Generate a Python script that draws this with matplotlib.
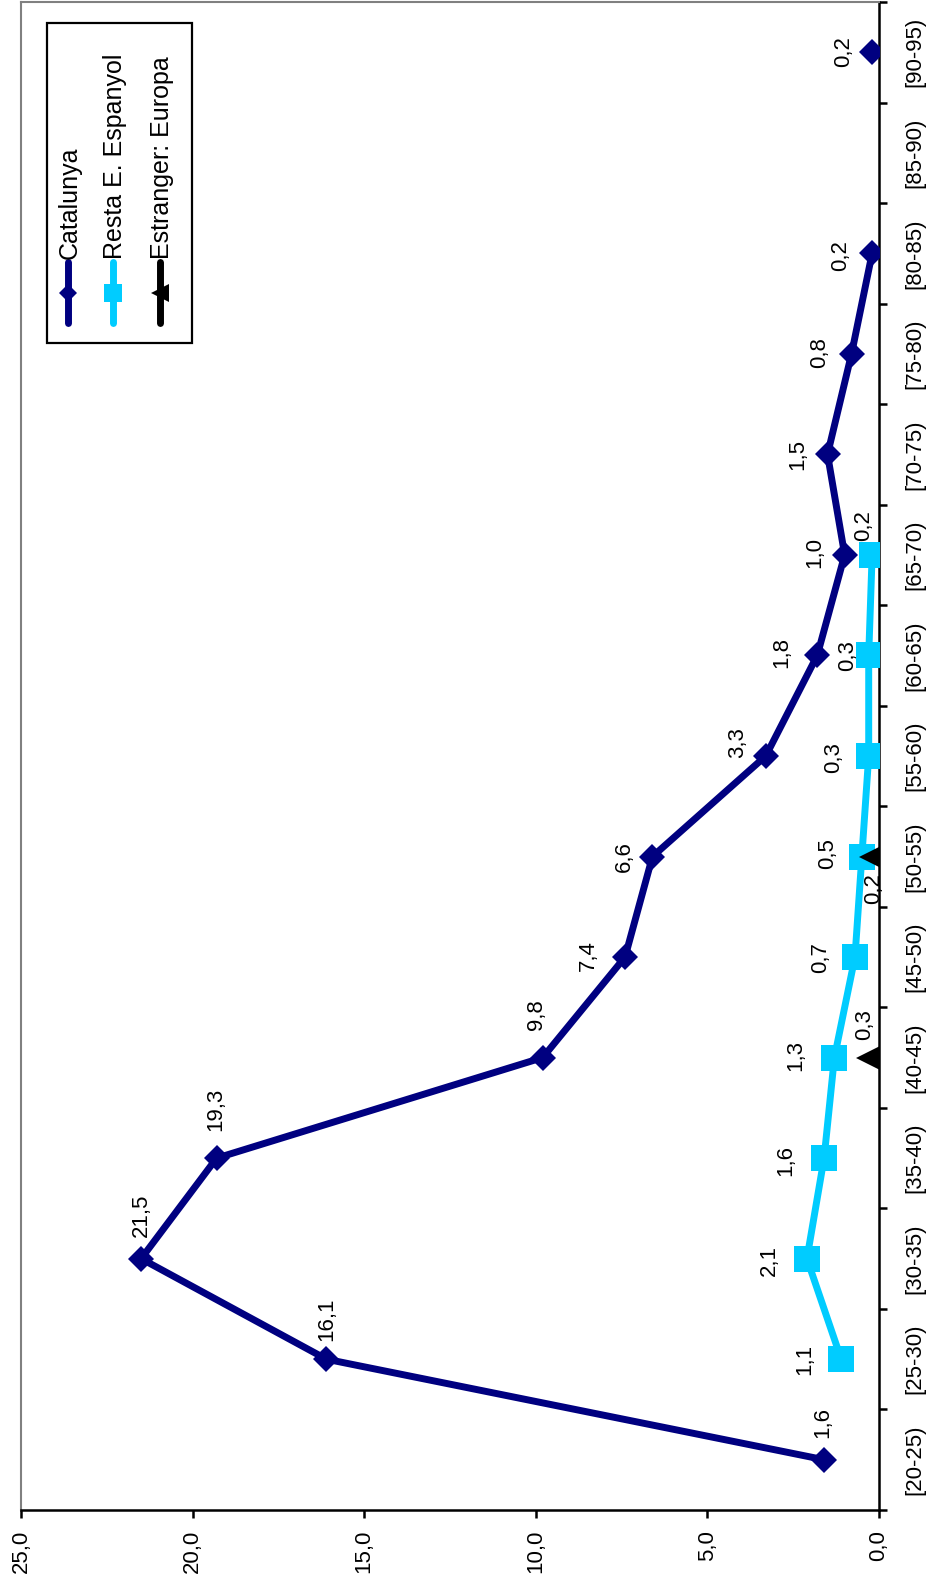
import numpy as np
import matplotlib
matplotlib.use("Agg")
import matplotlib.pyplot as plt
from matplotlib.patches import Rectangle

plt.rcParams['font.family'] = ['Liberation Sans', 'DejaVu Sans']

# ---- data ----
categories = ["[20-25)", "[25-30)", "[30-35)", "[35-40)", "[40-45)", "[45-50)",
              "[50-55)", "[55-60)", "[60-65)", "[65-70)", "[70-75)", "[75-80)",
              "[80-85)", "[85-90)", "[90-95)"]
nan = np.nan
catalunya = [1.6, 16.1, 21.5, 19.3, 9.8, 7.4, 6.6, 3.3, 1.8, 1.0, 1.5, 0.8, 0.2, nan, 0.2]
resta = [nan, 1.1, 2.1, 1.6, 1.3, 0.7, 0.5, 0.3, 0.3, 0.2, nan, nan, nan, nan, nan]
europa = [nan, nan, nan, nan, 0.3, nan, 0.2, nan, nan, nan, nan, nan, nan, nan, nan]
series_names = ["Catalunya", "Resta E. Espanyol", "Estranger: Europa"]
value_ticks = [0, 5, 10, 15, 20, 25]

# label offsets in pixels (dx right, dy down) in the image
cat_off = [(-1, -37), (0, -40), (0, -43), (-1, -49), (-6, -43), (-37, -2), (-28, 0),
           (-28, -13), (-35, -3), (-30, -2), (-30, 0), (-32, -1), (-32, 2), (0, 0), (-29, -1)]
res_off = [(0, 0), (-36, 0), (-38, 2), (-38, 2), (-39, -2), (-34, 0), (-34, -3),
           (-35, 2), (-21, 0), (-9, -29), (0, 0), (0, 0), (0, 0), (0, 0), (0, 0)]
eur_off = [(0, 0)] * 4 + [(-4, -33), (0, 0), (1, 32)] + [(0, 0)] * 8

FS = 16
W, H = 932, 1587
fig = plt.figure(figsize=(W / 100, H / 100), dpi=100)
L, R, T, B = 21, 879, 2, 1510
ax = fig.add_axes([L / W, 1 - B / H, (R - L) / W, (B - T) / H])

y = np.arange(len(categories))
colors = ['#000080', '#00CCFF', '#000000']
ax.plot(catalunya, y, color=colors[0], lw=5, marker='D', ms=13, mew=0, zorder=3)
ax.plot(resta, y, color=colors[1], lw=5, marker='s', ms=18.5, mew=0, zorder=4)
ax.plot(europa, y, color=colors[2], lw=5, marker='<', ms=19, mew=0, zorder=5)

ax.set_xlim(25, 0)
ax.set_ylim(-0.5, len(categories) - 0.5)

ax.set_xticks(value_ticks)
ax.set_xticklabels([f"{v:.1f}".replace('.', ',') for v in value_ticks], rotation=90)
ax.tick_params(axis='x', direction='out', length=5.8, width=1.8, pad=8.6, labelsize=FS)

ax.yaxis.tick_right()
ax.set_yticks(np.arange(-0.5, len(categories), 1))
ax.set_yticklabels([])
ax.set_yticks(y, minor=True)
ax.set_yticklabels(categories, minor=True, rotation=90, va='center')
ax.tick_params(axis='y', which='major', direction='out', length=5.8, width=1.8,
               right=True, left=False)
ax.tick_params(axis='y', which='minor', length=0, pad=18.0, labelsize=FS,
               right=True, left=False, labelright=True, labelleft=False)

for s in ['left', 'top']:
    ax.spines[s].set_color('#808080')
    ax.spines[s].set_linewidth(1.5)
for s in ['right', 'bottom']:
    ax.spines[s].set_color('black')
    ax.spines[s].set_linewidth(1.8)

def fmt(v):
    return f"{v:.1f}".replace('.', ',')

for vals, offs in [(catalunya, cat_off), (resta, res_off), (europa, eur_off)]:
    for i, v in enumerate(vals):
        if np.isnan(v):
            continue
        dx, dy = offs[i]
        ax.annotate(fmt(v), xy=(v, i), xytext=(dx * 0.72, -dy * 0.72),
                    textcoords='offset points', ha='center', va='center',
                    rotation=90, fontsize=FS, zorder=6, annotation_clip=False)

# ---- rotated legend drawn in pixel space ----
lg = fig.add_axes([0, 0, 1, 1], zorder=10)
lg.set_xlim(0, W)
lg.set_ylim(H, 0)
lg.axis('off')
lg.patch.set_visible(False)
lg.add_patch(Rectangle((47, 23), 145, 320, facecolor='white', edgecolor='black', lw=1.6))
hx = [68, 113, 160]
mk = [('D', 9), ('s', 13), ('<', 13)]
for k in range(3):
    lg.plot([hx[k], hx[k], hx[k]], [262, 293, 323], color=colors[k], lw=5,
            solid_capstyle='round', marker=mk[k][0], ms=mk[k][1], mew=0, markevery=[1])
    lg.text(hx[k] + 2, 259, series_names[k], rotation=90, ha='center', va='bottom',
            fontsize=18)

fig.savefig('out.png', dpi=100)
